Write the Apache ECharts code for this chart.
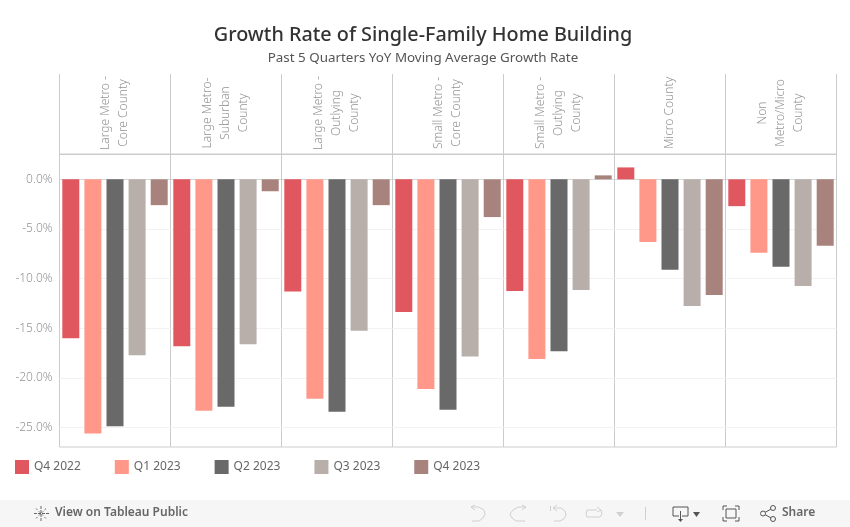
<!DOCTYPE html>
<html>
<head>
<meta charset="utf-8">
<title>Growth Rate of Single-Family Home Building</title>
<script src="https://cdn.jsdelivr.net/npm/echarts@6/dist/echarts.min.js"></script>
<style>
  html, body { margin: 0; padding: 0; background: #fff; }
  #chart { width: 850px; height: 527px; }
</style>
</head>
<body>
<div id="chart"></div>
<script>
const counties = [
  'Large Metro -\nCore County',
  'Large Metro-\nSuburban\nCounty',
  'Large Metro -\nOutlying\nCounty',
  'Small Metro -\nCore County',
  'Small Metro -\nOutlying\nCounty',
  'Micro County',
  'Non\nMetro/Micro\nCounty',
]
const quarters = ['Q4 2022', 'Q1 2023', 'Q2 2023', 'Q3 2023', 'Q4 2023']
const colors = ['#e1575f', '#ff9888', '#696969', '#b8afab', '#a8837d']
const yTicks = [-25, -20, -15, -10, -5, 0]

const q42022 = [-16.0, -16.8, -11.3, -13.35, -11.25, 1.2, -2.7]
const q12023 = [-25.6, -23.3, -22.1, -21.1, -18.1, -6.3, -7.4]
const q22023 = [-24.85, -22.9, -23.4, -23.2, -17.3, -9.1, -8.8]
const q32023 = [-17.7, -16.6, -15.25, -17.85, -11.15, -12.75, -10.75]
const q42023 = [-2.6, -1.2, -2.6, -3.8, 0.4, -11.65, -6.7]
const values = [q42022, q12023, q22023, q32023, q42023]

const font = 'Noto Sans'
const panelLeft = 59.5
const panelWidth = 111

const grids = []
const xAxes = []
const yAxes = []
const series = []

counties.forEach((county, i) => {
  grids.push({
    left: panelLeft + i * panelWidth,
    width: panelWidth,
    top: 154,
    height: 293,
    show: true,
    backgroundColor: 'transparent',
    borderColor: '#cccccc',
    borderWidth: 1,
  })
  xAxes.push({
    type: 'category',
    gridIndex: i,
    position: 'top',
    data: [county],
    axisLine: { onZero: false, lineStyle: { color: '#cccccc' } },
    axisTick: { show: true, length: 80, lineStyle: { color: '#cccccc' } },
    axisLabel: {
      interval: 0,
      rotate: -90,
      margin: 41,
      align: 'center',
      verticalAlign: 'middle',
      padding: [4, 0, 0, 0],
      lineHeight: 18,
      fontFamily: font,
      fontWeight: 300,
      fontSize: 12,
      color: '#939393',
    },
  })
  yAxes.push({
    type: 'value',
    gridIndex: i,
    min: -26.95,
    max: 2.55,
    axisLine: { show: false },
    axisTick: { show: false, customValues: yTicks },
    axisLabel: {
      show: i === 0,
      customValues: yTicks,
      margin: 7,
      padding: [2, 0, 0, 0],
      fontFamily: font,
      fontWeight: 300,
      fontSize: 12,
      color: '#939393',
      formatter: (v) => v.toFixed(1) + '%',
    },
    splitLine: { show: true, lineStyle: { color: '#f2f2f2', width: 1 } },
  })
  quarters.forEach((q, k) => {
    const s = {
      name: q,
      type: 'bar',
      xAxisIndex: i,
      yAxisIndex: i,
      barWidth: 17,
      barGap: '30%',
      itemStyle: { color: colors[k] },
      data: [values[k][i]],
    }
    if (k === 0) {
      s.markLine = {
        silent: true,
        symbol: 'none',
        z: 1,
        label: { show: false },
        lineStyle: { color: '#bdbdbd', type: 'dotted', width: 1 },
        data: [{ yAxis: 0 }],
      }
    }
    series.push(s)
  })
})

// Tableau viewer toolbar under the chart
const greyLine = { fill: 'none', stroke: '#d0d0d0', lineWidth: 1 }
const darkLine = { fill: 'none', stroke: '#555555', lineWidth: 1 }
const toolbar = [
  { type: 'rect', shape: { x: 0, y: 500, width: 850, height: 27 }, style: { fill: '#f6f6f6' } },
  { type: 'text', x: 55, y: 507, style: { text: 'View on Tableau Public', font: '600 12px "Noto Sans"', fill: '#666666' } },
  { type: 'text', x: 782, y: 507, style: { text: 'Share', font: '600 12px "Noto Sans"', fill: '#666666' } },
  // tableau logo
  { type: 'line', shape: { x1: 41, y1: 506, x2: 41, y2: 521 }, style: { stroke: '#666666', lineWidth: 1, lineDash: [3, 1] } },
  { type: 'line', shape: { x1: 34, y1: 513.5, x2: 49, y2: 513.5 }, style: { stroke: '#666666', lineWidth: 1, lineDash: [3, 1] } },
  { type: 'line', shape: { x1: 36, y1: 508.5, x2: 46, y2: 518.5 }, style: { stroke: '#666666', lineWidth: 1, lineDash: [2, 2] } },
  { type: 'line', shape: { x1: 46, y1: 508.5, x2: 36, y2: 518.5 }, style: { stroke: '#666666', lineWidth: 1, lineDash: [2, 2] } },
  // undo, redo, revert, refresh
  { type: 'polyline', shape: { points: [[471, 507], [479, 507], [484, 510], [485, 514], [483, 518], [479, 521], [472, 521]] }, style: greyLine },
  { type: 'polyline', shape: { points: [[475, 505], [471, 507], [475, 510]] }, style: greyLine },
  { type: 'polyline', shape: { points: [[526, 507], [518, 507], [513, 510], [510, 514], [512, 518], [516, 521], [525, 521]] }, style: greyLine },
  { type: 'polyline', shape: { points: [[522, 505], [526, 507], [522, 510]] }, style: greyLine },
  { type: 'line', shape: { x1: 550.5, y1: 506, x2: 550.5, y2: 511 }, style: greyLine },
  { type: 'polyline', shape: { points: [[553, 508], [561, 508], [565, 511], [566, 515], [564, 519], [560, 521], [554, 521]] }, style: greyLine },
  { type: 'polyline', shape: { points: [[557, 505], [553, 508], [557, 511]] }, style: greyLine },
  { type: 'polyline', shape: { points: [[597, 510], [587, 510], [586, 514], [587, 517], [600, 517], [602, 514], [601, 510]] }, style: greyLine },
  { type: 'polyline', shape: { points: [[597, 507], [601, 510], [597, 512]] }, style: greyLine },
  { type: 'polygon', shape: { points: [[616, 512], [624, 512], [620, 517]] }, style: { fill: '#d0d0d0' } },
  { type: 'line', shape: { x1: 645.5, y1: 507, x2: 645.5, y2: 520 }, style: greyLine },
  // download, fullscreen, share
  { type: 'polyline', shape: { points: [[679, 516], [673, 516], [673, 507], [688, 507], [688, 516], [682, 516]] }, style: darkLine },
  { type: 'line', shape: { x1: 680.5, y1: 511, x2: 680.5, y2: 521 }, style: darkLine },
  { type: 'polygon', shape: { points: [[678, 519], [683, 519], [680.5, 522]] }, style: { fill: '#555555' } },
  { type: 'polygon', shape: { points: [[693, 512], [700, 512], [696.5, 517]] }, style: { fill: '#555555' } },
  { type: 'rect', shape: { x: 726, y: 509, width: 10, height: 9 }, style: darkLine },
  { type: 'polyline', shape: { points: [[723, 510], [723, 506], [727, 506]] }, style: darkLine },
  { type: 'polyline', shape: { points: [[735, 506], [739, 506], [739, 510]] }, style: darkLine },
  { type: 'polyline', shape: { points: [[739, 517], [739, 521], [735, 521]] }, style: darkLine },
  { type: 'polyline', shape: { points: [[727, 521], [723, 521], [723, 517]] }, style: darkLine },
  { type: 'polyline', shape: { points: [[773, 508], [763, 513.5], [773, 519]] }, style: darkLine },
  { type: 'circle', shape: { cx: 763, cy: 513.5, r: 2.5 }, style: { fill: '#f6f6f6', stroke: '#555555', lineWidth: 1 } },
  { type: 'circle', shape: { cx: 773, cy: 508, r: 2.5 }, style: { fill: '#f6f6f6', stroke: '#555555', lineWidth: 1 } },
  { type: 'circle', shape: { cx: 773, cy: 519, r: 2.5 }, style: { fill: '#f6f6f6', stroke: '#555555', lineWidth: 1 } },
]

const chart = echarts.init(document.getElementById('chart'), null, { renderer: 'canvas' })
chart.setOption({
  animation: false,
  backgroundColor: '#ffffff',
  title: {
    text: 'Growth Rate of Single-Family Home Building',
    subtext: 'Past 5 Quarters YoY Moving Average Growth Rate',
    left: 418,
    textAlign: 'center',
    top: 20,
    itemGap: 7,
    textStyle: { fontFamily: font, fontSize: 19.8, fontWeight: 500, color: '#333333' },
    subtextStyle: { fontFamily: font, fontSize: 13.4, color: '#555555' },
  },
  legend: {
    left: 10,
    top: 455,
    itemWidth: 14,
    itemHeight: 14,
    itemGap: 34,
    icon: 'rect',
    selectedMode: false,
    data: quarters,
    textStyle: { fontFamily: font, fontSize: 12, color: '#666666' },
  },
  grid: grids,
  xAxis: xAxes,
  yAxis: yAxes,
  series: series,
  graphic: toolbar,
})
</script>
</body>
</html>
